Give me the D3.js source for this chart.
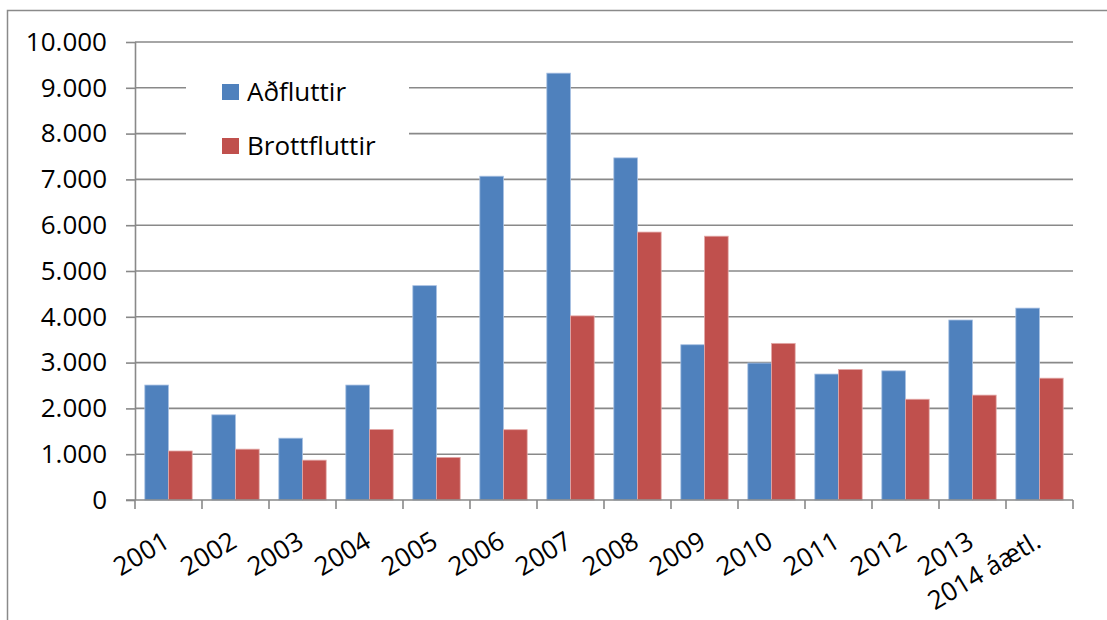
<!DOCTYPE html>
<html>
<head>
<meta charset="utf-8">
<script src="https://cdn.jsdelivr.net/npm/d3@7"></script>
<style>
  html, body { margin: 0; padding: 0; background: #fff; }
  svg { display: block; }
  text { font-family: "Open Sans", "Liberation Sans", sans-serif; fill: #000; }
</style>
</head>
<body>
<svg id="chart" width="1107" height="620"></svg>
<script>
const categories = ["2001","2002","2003","2004","2005","2006","2007","2008","2009","2010","2011","2012","2013","2014 áætl."];
const seriesNames = ["Aðfluttir", "Brottfluttir"];
const adfluttir =    [2510, 1860, 1350, 2510, 4680, 7070, 9320, 7470, 3390, 2990, 2750, 2820, 3930, 4190];
const brottfluttir = [1070, 1110,  870, 1540,  930, 1535, 4020, 5850, 5760, 3420, 2850, 2200, 2290, 2660];
const yTicks = [0, 1000, 2000, 3000, 4000, 5000, 6000, 7000, 8000, 9000, 10000];
const colors = ["#4F81BD", "#C0504D"];

const svg = d3.select("#chart");
const W = 1107, H = 620;
const plot = { left: 135, right: 1073, top: 42, bottom: 500 };

// outer chart border
svg.append("rect")
  .attr("x", 7.5).attr("y", 10.5)
  .attr("width", W + 20).attr("height", H + 20)
  .attr("fill", "none").attr("stroke", "#8a8a8a").attr("stroke-width", 1.5);

const y = d3.scaleLinear().domain([0, 10000]).range([plot.bottom, plot.top]);
const x0 = d3.scaleBand().domain(categories).range([plot.left, plot.right])
  .paddingInner(0.293).paddingOuter(0.1465);
const x1 = d3.scaleBand().domain(seriesNames).range([0, x0.bandwidth()]).padding(0);

const fmt = v => d3.format(",")(v).replace(/,/g, ".");

// gridlines
svg.append("g").selectAll("line").data(yTicks.filter(d => d > 0)).join("line")
  .attr("x1", plot.left).attr("x2", plot.right)
  .attr("y1", d => y(d)).attr("y2", d => y(d))
  .attr("stroke", "#898989").attr("stroke-width", 1.6);

// bars
const data = categories.map((c, i) => ({ cat: c, vals: [adfluttir[i], brottfluttir[i]] }));
const groups = svg.append("g").selectAll("g").data(data).join("g")
  .attr("transform", d => `translate(${x0(d.cat)},0)`);
groups.selectAll("rect").data(d => d.vals.map((v, k) => ({ name: seriesNames[k], v, k }))).join("rect")
  .attr("x", d => x1(d.name))
  .attr("y", d => y(d.v))
  .attr("width", x1.bandwidth())
  .attr("height", d => y(0) - y(d.v))
  .attr("fill", d => colors[d.k])
  .attr("stroke", d => d.k === 0 ? "#a9c1e3" : "#e3a9a8")
  .attr("stroke-width", 0.8);

// y axis
const yAxis = d3.axisLeft(y).tickValues(yTicks).tickFormat(fmt).tickSize(9).tickPadding(19);
const gy = svg.append("g").attr("transform", `translate(${plot.left},0)`).call(yAxis);
gy.select(".domain").attr("stroke", "#898989").attr("stroke-width", 1.6)
  .attr("d", `M0.5,${plot.top}V${plot.bottom}`);
gy.selectAll(".tick line").attr("stroke", "#898989").attr("stroke-width", 1.6);
gy.selectAll(".tick text").attr("font-size", 26).attr("font-family", "Open Sans").attr("fill", "#000");

// x axis
const tickPos = d3.range(categories.length + 1).map(i => plot.left + i * x0.step());
const gx = svg.append("g");
gx.append("line").attr("x1", plot.left - 9).attr("x2", plot.right)
  .attr("y1", plot.bottom).attr("y2", plot.bottom)
  .attr("stroke", "#898989").attr("stroke-width", 1.6);
gx.selectAll("line.tk").data(tickPos).join("line").attr("class", "tk")
  .attr("x1", d => d).attr("x2", d => d)
  .attr("y1", plot.bottom).attr("y2", plot.bottom + 9)
  .attr("stroke", "#898989").attr("stroke-width", 1.6);
gx.selectAll("text").data(categories).join("text")
  .attr("transform", d => `translate(${x0(d) + x0.bandwidth() / 2 + 3},${plot.bottom + 46}) rotate(-31)`)
  .attr("text-anchor", "end")
  .attr("font-size", 26)
  .text(d => d);

// legend
const lg = svg.append("g");
lg.append("rect").attr("x", 186).attr("y", 55).attr("width", 223).attr("height", 112).attr("fill", "#fff");
const items = lg.selectAll("g").data(seriesNames).join("g")
  .attr("transform", (d, i) => `translate(222,${84 + i * 54})`);
items.append("rect").attr("width", 17).attr("height", 16).attr("fill", (d, i) => colors[i]);
items.append("text").attr("x", 25).attr("y", 17).attr("font-size", 26).text(d => d);
</script>
</body>
</html>
